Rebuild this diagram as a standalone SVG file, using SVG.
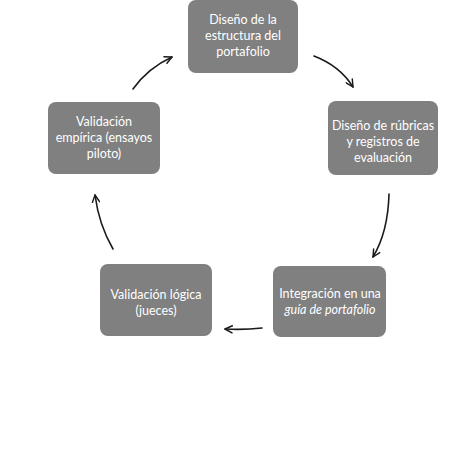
<svg xmlns="http://www.w3.org/2000/svg" width="474" height="474" viewBox="0 0 474 474">
<style>
.box{fill:#808080;}
.t{font-family:Lato,"Liberation Sans",sans-serif;font-size:12.5px;fill:#ffffff;text-anchor:middle;}
.c{fill:none;stroke:#1a1a1a;stroke-width:1.6;stroke-linecap:round;}
</style>
<defs>
<marker id="ah" viewBox="0 0 10 10" refX="9" refY="5" markerWidth="9" markerHeight="9" markerUnits="userSpaceOnUse" orient="auto">
<path d="M1,1 L9,5 L1,9" fill="none" stroke="#1a1a1a" stroke-width="1.6" stroke-linecap="round" stroke-linejoin="round"/>
</marker>
</defs>
<rect width="474" height="474" fill="#ffffff"/>
<g id="n1"><rect class="box" x="188" y="0" width="110" height="73" rx="8"/>
<text class="t" x="243" y="24">Diseño de la</text>
<text class="t" x="243" y="40">estructura del</text>
<text class="t" x="243" y="56">portafolio</text></g>
<g id="n2"><rect class="box" x="328" y="101" width="110" height="74" rx="8"/>
<text class="t" x="383" y="130">Diseño de rúbricas</text>
<text class="t" x="383" y="146">y registros de</text>
<text class="t" x="383" y="162">evaluación</text></g>
<g id="n3"><rect class="box" x="273" y="266" width="113" height="71" rx="8"/>
<text class="t" x="330" y="298">Integración en una</text>
<text class="t" x="330" y="314" font-style="italic">guía de portafolio</text></g>
<g id="n4"><rect class="box" x="100" y="264" width="112" height="72" rx="8"/>
<text class="t" x="156" y="299">Validación lógica</text>
<text class="t" x="156" y="315">(jueces)</text></g>
<g id="n5"><rect class="box" x="48" y="102" width="112" height="72" rx="8"/>
<text class="t" x="104" y="126">Validación</text>
<text class="t" x="104" y="142">empírica (ensayos</text>
<text class="t" x="104" y="158">piloto)</text></g>
<g id="connectors">
<path class="c" d="M133,89 Q148,68 172,57" marker-end="url(#ah)"/>
<path class="c" d="M314,56 Q340,66 353,87" marker-end="url(#ah)"/>
<path class="c" d="M389,194 Q388,232 373,257" marker-end="url(#ah)"/>
<path class="c" d="M262,328 Q244,330 225,329" marker-end="url(#ah)"/>
<path class="c" d="M113,249 Q99,225 95,195" marker-end="url(#ah)"/>
</g>
</svg>
